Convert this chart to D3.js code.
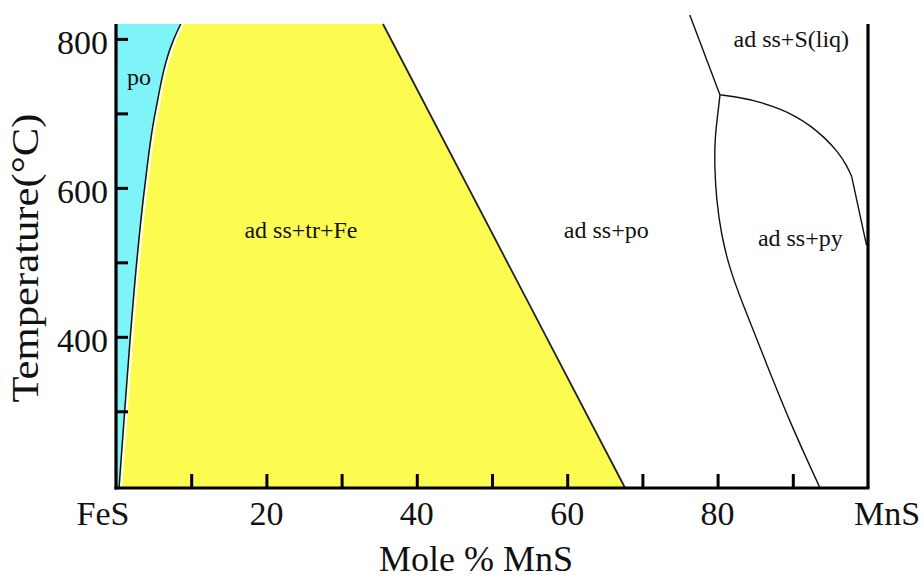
<!DOCTYPE html>
<html>
<head>
<meta charset="utf-8">
<script src="https://cdn.jsdelivr.net/npm/d3@7"></script>
<style>
  html, body { margin: 0; padding: 0; background: #fff; }
  svg { display: block; }
  text { font-family: "Liberation Serif", "Times New Roman", serif; fill: #111; }
</style>
</head>
<body>
<svg id="chart" width="924" height="579"></svg>
<script>
// ---- data ----
const xMinorTicks = [10, 20, 30, 40, 50, 60, 70, 80, 90];
const xLabelValues = [0, 20, 40, 60, 80, 100];
const xLabelTexts = ["FeS", "20", "40", "60", "80", "MnS"];
const yMinorTicks = [300, 400, 500, 600, 700, 800];
const yLabelValues = [400, 600, 800];

// pyrrhotite (po) solvus: [mol% MnS, T]
const poBoundary = [[0.4, 197], [1.15, 300], [1.9, 400], [2.75, 500], [3.8, 600], [5.2, 700], [7.7, 800], [8.6, 820]];
// right edge of ad ss+tr+Fe field
const trFeEdge = [[35.5, 820], [67.7, 197]];
// liquid boundary above triple point
const liqLine = [[76.3, 832], [80.32, 724.8]];
// upper py boundary (triple point to right axis)
const pyUpper = [[80.32, 724.8], [82.98, 721.5], [85.64, 715.4], [88.30, 706.0], [90.29, 696.6], [92.29, 683.9], [94.28, 667.1], [96.01, 648.3], [97.21, 629.5], [97.83, 615.1]];
const pyUpperTail = [[97.83, 615.1], [99.8, 523]];
// left py boundary (triple point down to base)
const pyLeft = [[80.32, 724.8], [79.85, 684.6], [79.65, 664.4], [79.59, 628.2], [79.85, 583.9], [80.45, 539.6], [81.52, 494], [83.11, 449.7], [86.30, 369.1], [89.63, 284.6], [93.62, 197]];

const regionNames = ["po", "ad ss+tr+Fe", "ad ss+po", "ad ss+S(liq)", "ad ss+py"];
const regionX = [1.46, 24.6, 65.2, 89.8, 91.0];
const regionT = [738, 533, 533, 789, 522];

// ---- scales ----
const svg = d3.select("#chart");
const x = d3.scaleLinear().domain([0, 100]).range([116, 868]);
const y = d3.scaleLinear().domain([197, 820]).range([488, 24]);

const line = d3.line().x(d => x(d[0])).y(d => y(d[1]));
const smoothY = d3.line().x(d => x(d[0])).y(d => y(d[1])).curve(d3.curveMonotoneY);
const basis = d3.line().x(d => x(d[0])).y(d => y(d[1])).curve(d3.curveBasis);

// boundary path string for po curve (bottom to top)
const poPath = smoothY(poBoundary);

// cyan po field
svg.append("path")
  .attr("d", `M${x(0)},${y(197)}L` + poPath.slice(1) + `L${x(0)},${y(820)}Z`)
  .attr("fill", "#7ff4f8");

// yellow field
svg.append("path")
  .attr("d", poPath + `L${x(trFeEdge[0][0])},${y(trFeEdge[0][1])}L${x(trFeEdge[1][0])},${y(trFeEdge[1][1])}Z`)
  .attr("fill", "#fcfc50");

// white gap + black boundary for po
svg.append("path").attr("d", poPath).attr("fill", "none")
  .attr("stroke", "#fff").attr("stroke-width", 2.2).attr("transform", "translate(2,0)");
svg.append("path").attr("d", poPath).attr("fill", "none")
  .attr("stroke", "#111").attr("stroke-width", 1.5);

// yellow right edge
svg.append("path").attr("d", line(trFeEdge)).attr("fill", "none")
  .attr("stroke", "#222").attr("stroke-width", 1.8);

// right side boundaries
[liqLine, pyUpperTail].forEach(arr => {
  svg.append("path").attr("d", line(arr)).attr("fill", "none")
    .attr("stroke", "#111").attr("stroke-width", 1.4);
});
svg.append("path").attr("d", basis(pyUpper)).attr("fill", "none")
  .attr("stroke", "#111").attr("stroke-width", 1.4);
svg.append("path").attr("d", basis(pyLeft)).attr("fill", "none")
  .attr("stroke", "#111").attr("stroke-width", 1.4);

// ---- axes ----
const axisG = svg.append("g");
const xAxis = d3.axisBottom(x).tickValues(xMinorTicks).tickSize(-14).tickFormat("");
const gx = axisG.append("g").attr("transform", `translate(0,${y(197)})`).call(xAxis);
gx.select(".domain").remove();
gx.selectAll(".tick line").attr("stroke", "#000").attr("stroke-width", 3);

const yAxis = d3.axisLeft(y).tickValues(yMinorTicks).tickSize(-12).tickFormat("");
const gy = axisG.append("g").attr("transform", `translate(${x(0)},0)`).call(yAxis);
gy.select(".domain").remove();
gy.selectAll(".tick line").attr("stroke", "#000").attr("stroke-width", 3);

// frame lines: left, bottom, right
axisG.append("line").attr("x1", x(0)).attr("x2", x(0)).attr("y1", y(820)).attr("y2", y(197) + 1.5)
  .attr("stroke", "#000").attr("stroke-width", 3.2);
axisG.append("line").attr("x1", x(0) - 1.5).attr("x2", x(100) + 1.5).attr("y1", y(197)).attr("y2", y(197))
  .attr("stroke", "#000").attr("stroke-width", 3.2);
axisG.append("line").attr("x1", x(100)).attr("x2", x(100)).attr("y1", y(820)).attr("y2", y(197))
  .attr("stroke", "#000").attr("stroke-width", 3.2);

// x labels
const xOffsets = { 0: -13, 100: 19 };
svg.append("g").selectAll("text").data(xLabelValues).join("text")
  .attr("x", d => x(d) + (xOffsets[d] || 0))
  .attr("y", 525)
  .attr("text-anchor", "middle")
  .attr("font-size", 34)
  .text((d, i) => xLabelTexts[i]);

// y labels
svg.append("g").selectAll("text").data(yLabelValues).join("text")
  .attr("x", 108)
  .attr("y", d => y(d) + 3)
  .attr("dy", "0.35em")
  .attr("text-anchor", "end")
  .attr("font-size", 34)
  .text(d => d);

// axis titles
svg.append("text").attr("x", 476).attr("y", 571).attr("text-anchor", "middle")
  .attr("font-size", 36).text("Mole % MnS");
svg.append("text").attr("transform", "translate(38,258) rotate(-90)")
  .attr("text-anchor", "middle").attr("font-size", 37)
  .attr("textLength", 289).attr("lengthAdjust", "spacingAndGlyphs")
  .text("Temperature(°C)");

// region labels
svg.append("g").selectAll("text").data(regionNames).join("text")
  .attr("x", (d, i) => x(regionX[i]))
  .attr("y", (d, i) => y(regionT[i]))
  .attr("text-anchor", (d, i) => i === 0 ? "start" : "middle")
  .attr("font-size", 24)
  .text(d => d);
</script>
</body>
</html>
